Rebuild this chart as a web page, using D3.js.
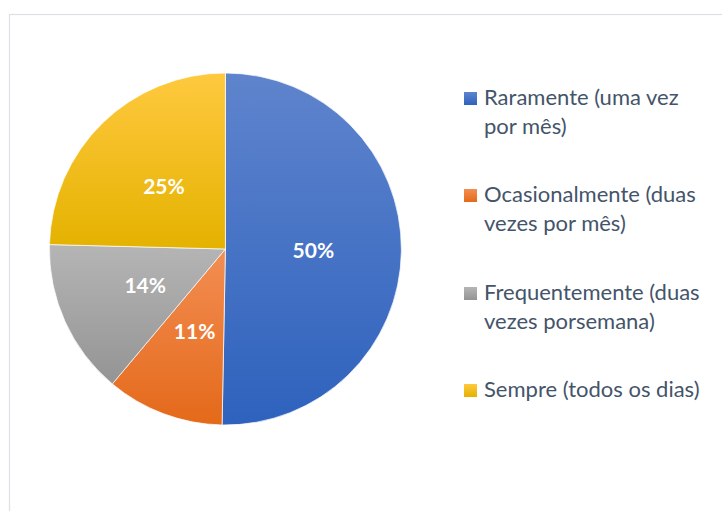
<!DOCTYPE html>
<meta charset="utf-8">
<style>
body { margin: 0; background: #fff; }
svg { display: block; }
.lbl { font-family: Lato, sans-serif; font-weight: bold; fill: #fff; font-size: 21px; }
.leg { font-family: Lato, sans-serif; fill: #44546A; font-size: 22px; }
</style>
<body>
<svg width="722" height="511"></svg>
<script src="https://d3js.org/d3.v7.min.js"></script>
<script>

// data
var categories = [
  ["Raramente (uma vez", "por mês)"],
  ["Ocasionalmente (duas", "vezes por mês)"],
  ["Frequentemente (duas", "vezes porsemana)"],
  ["Sempre (todos os dias)"]
];
var values = [50.3, 10.8, 14.3, 24.6];
var colorsTop = ["#5F84CD", "#F38E53", "#B5B5B5", "#FFC93F"];
var colorsBottom = ["#2E62BD", "#E4691A", "#949494", "#E4B200"];

var svg = d3.select("svg");

// chart frame
svg.append("rect")
  .attr("x", 9.5).attr("y", 14.5)
  .attr("width", 730).attr("height", 520)
  .attr("fill", "none")
  .attr("stroke", "#DCE1E7")
  .attr("stroke-width", 1.2);

var defs = svg.append("defs");
values.forEach(function(v, i) {
  var g = defs.append("linearGradient")
    .attr("id", "grad" + i)
    .attr("x1", 0).attr("y1", 0).attr("x2", 0).attr("y2", 1);
  g.append("stop").attr("offset", "0%").attr("stop-color", colorsTop[i]);
  g.append("stop").attr("offset", "100%").attr("stop-color", colorsBottom[i]);
});

var cx = 225.4, cy = 249, r = 176;

var pie = d3.pie().sort(null).value(function(d) { return d; });
var arc = d3.arc().innerRadius(0).outerRadius(r);
var total = d3.sum(values);

var g = svg.append("g").attr("transform", "translate(" + cx + "," + cy + ")");

var arcs = pie(values);

g.selectAll("path")
  .data(arcs)
  .enter().append("path")
    .attr("d", arc)
    .attr("fill", function(d, i) { return "url(#grad" + i + ")"; })
    .attr("stroke", "#fff")
    .attr("stroke-width", 0.7);

g.selectAll("text")
  .data(arcs)
  .enter().append("text")
    .attr("class", "lbl")
    .attr("text-anchor", "middle")
    .attr("transform", function(d) {
      var c = arc.centroid(d);
      return "translate(" + c[0] + "," + (c[1] + 8) + ")";
    })
    .text(function(d) { return Math.round(d.value / total * 100) + "%"; });

// legend
var legY = [105, 202, 300, 397];
var leg = svg.append("g");
categories.forEach(function(lines, i) {
  leg.append("rect")
    .attr("x", 464).attr("y", legY[i] - 13)
    .attr("width", 13).attr("height", 13)
    .attr("fill", "url(#grad" + i + ")");
  var t = leg.append("text").attr("class", "leg")
    .attr("x", 484).attr("y", legY[i]);
  lines.forEach(function(s, j) {
    t.append("tspan").attr("x", 484).attr("dy", j ? 28.5 : 0).text(s);
  });
});

</script>
</body>
